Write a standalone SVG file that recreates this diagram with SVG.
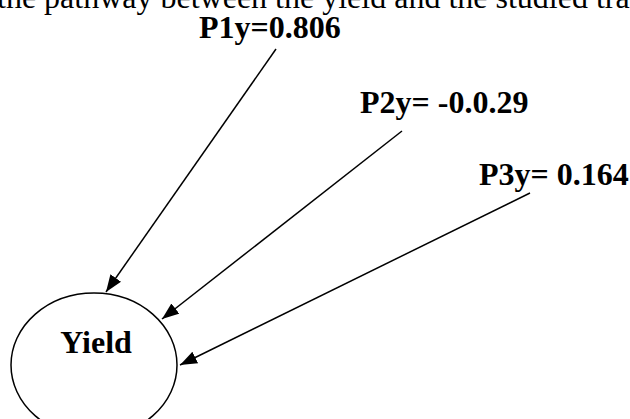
<svg xmlns="http://www.w3.org/2000/svg" width="630" height="419" viewBox="0 0 630 419">
<style>
.cap{font-family:"Liberation Serif","Times New Roman",serif;font-size:32px;fill:#000}
.lbl{font-family:"Liberation Serif","Times New Roman",serif;font-size:32px;font-weight:bold;fill:#000}
.edge{stroke:#000;stroke-width:1.5;fill:none;marker-end:url(#ah)}
</style>
<defs>
<marker id="ah" markerUnits="userSpaceOnUse" markerWidth="18" markerHeight="14" refX="17" refY="6.5" orient="auto">
<path d="M0,0 L17,6.5 L0,13 z" fill="#000"/>
</marker>
</defs>
<rect width="630" height="419" fill="#fff"/>
<text class="cap" x="-3" y="8">the pathway between the yield and the studied tra</text>
<g id="connectors">
<line class="edge" x1="276" y1="49" x2="106" y2="292"/>
<line class="edge" x1="402" y1="131" x2="162" y2="319"/>
<line class="edge" x1="530" y1="193" x2="180" y2="365"/>
</g>
<g id="p1y"><text class="lbl" x="199" y="38">P1y=0.806</text></g>
<g id="p2y"><text class="lbl" x="360" y="113">P2y= -0.0.29</text></g>
<g id="p3y"><text class="lbl" x="479" y="185">P3y= 0.164</text></g>
<g id="yield">
<ellipse cx="94" cy="365" rx="83" ry="72" fill="none" stroke="#000" stroke-width="1.5"/>
<text class="lbl" x="96" y="353" text-anchor="middle">Yield</text>
</g>
</svg>
